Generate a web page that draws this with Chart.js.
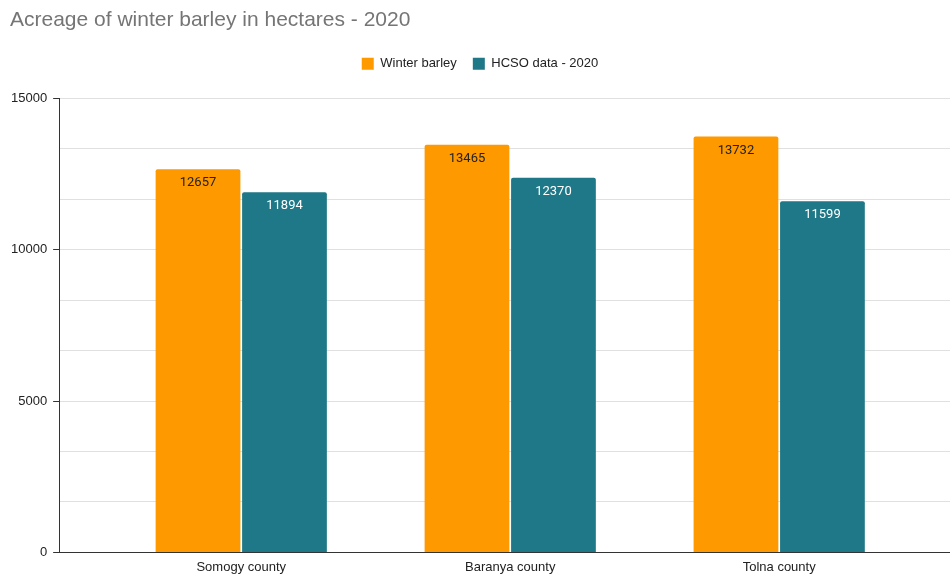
<!DOCTYPE html>
<html>
<head>
<meta charset="utf-8">
<script src="https://cdn.jsdelivr.net/npm/chart.js@4"></script>
<style>
  html, body { margin: 0; padding: 0; background: #fff; }
  #wrap { width: 950px; height: 575px; }
</style>
</head>
<body>
<div id="wrap"><canvas id="myChart" width="950" height="575"></canvas></div>
<script>
const categories = ['Somogy county', 'Baranya county', 'Tolna county'];
const winterBarley = [12657, 13465, 13732];
const hcsoData = [11894, 12370, 11599];
const yLabelTicks = [0, 5000, 10000, 15000];
const minorPerMajor = 3;

const orange = '#ff9900';
const teal = '#1f7887';

// labels drawn inside the top of each bar
const barLabels = {
    id: 'barLabels',
    afterDatasetsDraw(chart) {
        const ctx = chart.ctx;
        ctx.save();
        ctx.font = '13px Roboto';
        ctx.textAlign = 'center';
        ctx.textBaseline = 'middle';
        chart.data.datasets.forEach((ds, i) => {
            const meta = chart.getDatasetMeta(i);
            meta.data.forEach((bar, j) => {
                ctx.fillStyle = ds.labelColor;
                ctx.fillText(String(ds.data[j].y), bar.x, bar.y + 14);
            });
        });
        ctx.restore();
    }
};

// extra room under the legend
const legendMargin = {
    id: 'legendMargin',
    beforeInit(chart) {
        const fit = chart.legend.fit;
        chart.legend.fit = function () {
            fit.bind(chart.legend)();
            this.height += 18;
        };
    }
};

const ctx = document.getElementById('myChart').getContext('2d');
const data = {
    datasets: [{
        label: 'Winter barley',
        data: winterBarley.map((v, i) => ({ x: i, y: v })),
        backgroundColor: orange,
        labelColor: '#222222',
        borderRadius: 2,
        borderSkipped: 'bottom'
    }, {
        label: 'HCSO data - 2020',
        data: hcsoData.map((v, i) => ({ x: i, y: v })),
        backgroundColor: teal,
        labelColor: '#ffffff',
        borderRadius: 2,
        borderSkipped: 'bottom'
    }]
};

const isMajor = (v) => yLabelTicks.some(t => Math.abs(t - v) < 0.01);

const options = {
    responsive: false,
    maintainAspectRatio: false,
    animation: false,
    layout: { padding: { left: 10, right: 0, top: 0, bottom: 0 } },
    categoryPercentage: 0.643,
    barPercentage: 0.98,
    plugins: {
        title: {
            display: true,
            text: 'Acreage of winter barley in hectares - 2020',
            align: 'start',
            color: '#757575',
            font: { family: 'Liberation Sans', size: 21, weight: 'normal' },
            padding: { top: 8, bottom: 8 }
        },
        legend: {
            labels: {
                boxWidth: 12,
                boxHeight: 12,
                color: '#222222',
                font: { family: 'Liberation Sans', size: 13 },
                padding: 16
            }
        },
        tooltip: { enabled: false }
    },
    scales: {
        x: {
            type: 'linear',
            offset: false,
            min: -0.677,
            max: 2.635,
            afterBuildTicks(scale) {
                scale.ticks = categories.map((c, i) => ({ value: i }));
            },
            afterFit(scale) {
                scale.height -= 7;
            },
            ticks: {
                color: '#222222',
                font: { family: 'Liberation Sans', size: 13 },
                padding: 7,
                callback: (v) => categories[v]
            },
            grid: { display: false, drawTicks: false, offset: false },
            border: { display: true, color: '#333333', width: 1 }
        },
        y: {
            min: 0,
            max: 15000,
            afterBuildTicks(scale) {
                const ticks = [];
                const top = yLabelTicks[yLabelTicks.length - 1];
                const step = (yLabelTicks[1] - yLabelTicks[0]) / minorPerMajor;
                for (let k = 0; k * step <= top + 0.01; k++) ticks.push({ value: k * step });
                scale.ticks = ticks;
            },
            afterFit(scale) {
                scale.width -= 5;
            },
            ticks: {
                color: '#222222',
                font: { family: 'Liberation Sans', size: 13 },
                padding: 6,
                callback: (v) => isMajor(v) ? String(Math.round(v)) : ''
            },
            grid: {
                color: '#e0e0e0',
                tickLength: 6,
                tickColor: (c) => isMajor(c.tick.value) ? '#333333' : 'transparent'
            },
            border: { display: true, color: '#333333', width: 1 }
        }
    }
};

const myChart = new Chart(ctx, {
    type: 'bar',
    data: data,
    options: options,
    plugins: [barLabels, legendMargin]
});
</script>
</body>
</html>
